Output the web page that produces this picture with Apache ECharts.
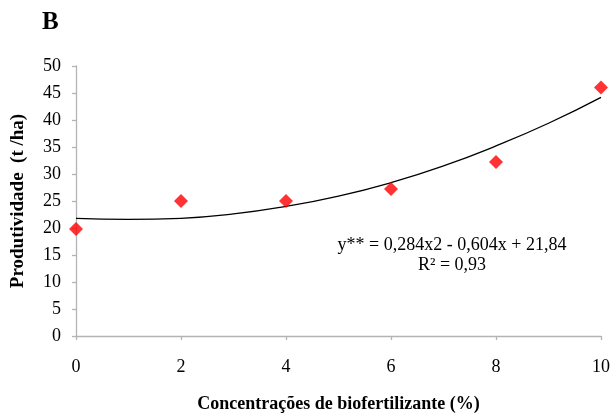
<!DOCTYPE html>
<html><head><meta charset="utf-8">
<script src="https://cdn.jsdelivr.net/npm/echarts@6/dist/echarts.min.js"></script>
<style>html,body{margin:0;padding:0;background:#fff}#c{width:614px;height:413px}</style>
</head><body><div id="c"></div>
<script>
// Observed data
var conc = [0, 2, 4, 6, 8, 10];
var produtividade = [19.8, 25.0, 25.0, 27.2, 32.2, 46.0];
// Trend curve
var trendX = [0, 1, 2, 3, 4, 5, 6, 7, 8, 9, 10];
var trendY = [21.8, 21.6, 21.8, 22.6, 24.0, 25.9, 28.4, 31.5, 35.2, 39.4, 44.2];
var xTicks = [0, 2, 4, 6, 8, 10];
var yTicks = [0, 5, 10, 15, 20, 25, 30, 35, 40, 45, 50];
var panelLabel = 'B';
var equationText = 'y** = 0,284x2 - 0,604x + 21,84';
var r2Text = 'R² = 0,93';
var xName = 'Concentrações de biofertilizante (%)';
var yName = 'Produtividade  (t /ha)';

var serif = '"Liberation Serif", "Times New Roman", serif';
var axisGray = '#b4b4b4';
var chart = echarts.init(document.getElementById('c'), null, {renderer: 'canvas'});
chart.setOption({
  animation: false,
  backgroundColor: '#ffffff',
  grid: {left: 76, right: 13, top: 66, bottom: 77, outerBoundsMode: 'none', containLabel: false},
  xAxis: {
    type: 'value', min: xTicks[0], max: xTicks[xTicks.length - 1], interval: 2,
    name: xName, nameLocation: 'middle', nameGap: 59,
    nameTextStyle: {fontFamily: serif, fontWeight: 'bold', fontSize: 18, color: '#000'},
    axisLine: {lineStyle: {color: axisGray, width: 1.3}},
    axisTick: {show: true, length: 4, lineStyle: {color: axisGray, width: 1.3}},
    axisLabel: {fontFamily: serif, fontSize: 18, color: '#000', margin: 22},
    splitLine: {show: false}
  },
  yAxis: {
    type: 'value', min: yTicks[0], max: yTicks[yTicks.length - 1], interval: 5,
    name: yName, nameLocation: 'middle', nameGap: 48,
    nameTextStyle: {fontFamily: serif, fontWeight: 'bold', fontSize: 19, color: '#000'},
    axisLine: {show: true, lineStyle: {color: axisGray, width: 1.3}},
    axisTick: {show: true, length: 4, lineStyle: {color: axisGray, width: 1.3}},
    axisLabel: {fontFamily: serif, fontSize: 18, color: '#000', margin: 15},
    splitLine: {show: false}
  },
  series: [
    {
      type: 'line', smooth: true, symbol: 'none',
      data: trendX.map(function (x, i) { return [x, trendY[i]]; }),
      lineStyle: {color: '#000', width: 1.3}, z: 2
    },
    {
      type: 'scatter', symbol: 'diamond', symbolSize: 14,
      data: conc.map(function (x, i) { return [x, produtividade[i]]; }),
      itemStyle: {color: '#ff0000'}, z: 3
    }
  ],
  graphic: [
    {type: 'text', left: 42, top: 10, style: {text: panelLabel, fontFamily: serif, fontWeight: 'bold', fontSize: 25, fill: '#000'}},
    {type: 'text', x: 452, y: 245, style: {text: equationText, fontFamily: serif, fontSize: 18, fill: '#000', align: 'center', verticalAlign: 'middle'}},
    {type: 'text', x: 452, y: 265, style: {text: r2Text, fontFamily: serif, fontSize: 18, fill: '#000', align: 'center', verticalAlign: 'middle'}}
  ]
});
</script></body></html>
